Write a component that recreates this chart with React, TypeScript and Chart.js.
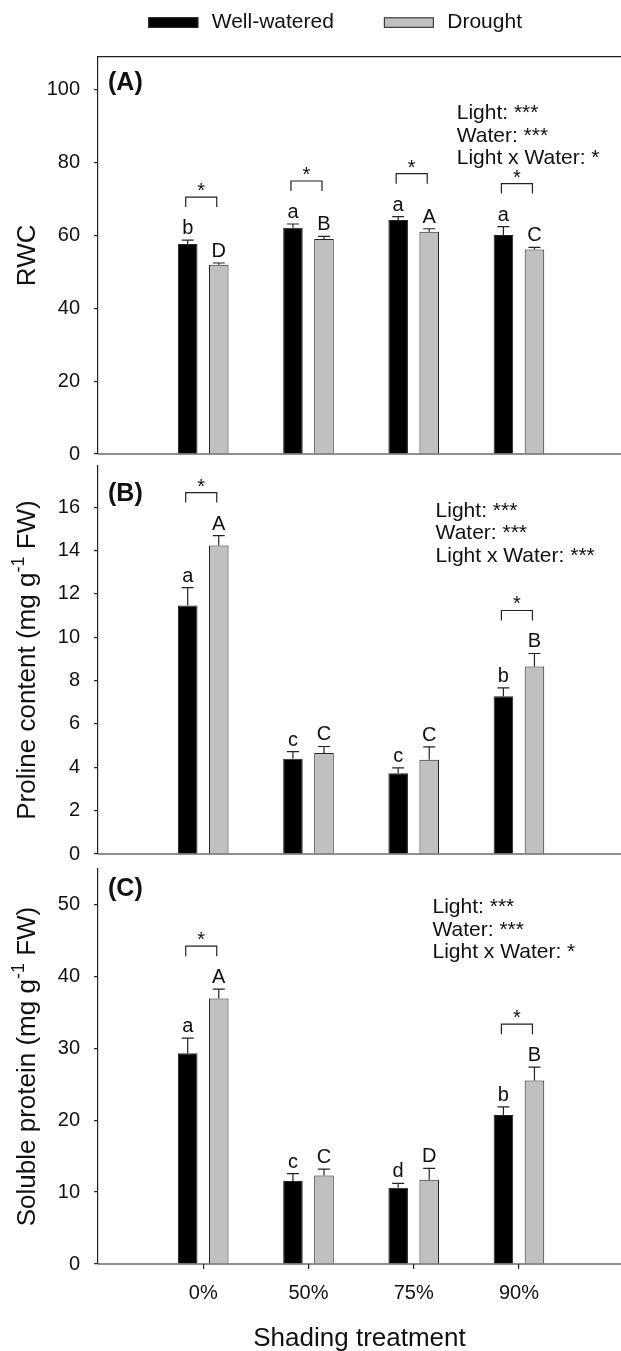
import React, { useEffect, useRef } from 'react';
import { Chart, registerables } from 'chart.js';

Chart.register(...registerables);

const FONT = "'Liberation Sans', Arial, Helvetica, sans-serif";
const TEXT = '#111111';
const LINE = '#222222';

// ---------- data ----------
const categories = ['0%', '50%', '75%', '90%'];
const seriesLabels = ['Well-watered', 'Drought'];
const xTitle = 'Shading treatment';

const rwcWell = [57.6, 62.1, 64.2, 60.1];
const rwcWellErr = [1.1, 1.0, 0.9, 2.3];
const rwcDrought = [51.9, 59.0, 61.0, 56.1];
const rwcDroughtErr = [0.5, 0.7, 0.8, 0.6];
const rwcWellLetters = ['b', 'a', 'a', 'a'];
const rwcDroughtLetters = ['D', 'B', 'A', 'C'];
const rwcSig = [true, true, true, true];
const rwcStats = ['Light: ***', 'Water: ***', 'Light x Water: *'];
const rwcTicks = [0, 20, 40, 60, 80, 100];

const proWell = [11.46, 4.39, 3.73, 7.28];
const proWellErr = [0.83, 0.33, 0.24, 0.38];
const proDrought = [14.23, 4.66, 4.35, 8.65];
const proDroughtErr = [0.46, 0.3, 0.59, 0.6];
const proWellLetters = ['a', 'c', 'c', 'b'];
const proDroughtLetters = ['A', 'C', 'C', 'B'];
const proSig = [true, false, false, true];
const proStats = ['Light: ***', 'Water: ***', 'Light x Water: ***'];
const proTicks = [0, 2, 4, 6, 8, 10, 12, 14, 16];

const solWell = [29.3, 11.55, 10.6, 20.7];
const solWellErr = [2.1, 1.0, 0.6, 1.15];
const solDrought = [36.9, 12.3, 11.7, 25.5];
const solDroughtErr = [1.3, 0.9, 1.6, 1.85];
const solWellLetters = ['a', 'c', 'd', 'b'];
const solDroughtLetters = ['A', 'C', 'D', 'B'];
const solSig = [true, false, false, true];
const solStats = ['Light: ***', 'Water: ***', 'Light x Water: *'];
const solTicks = [0, 10, 20, 30, 40, 50];

// ---------- panel configs (layout kept separate from data) ----------
const panels = [
  {
    tag: '(A)', title: ['RWC'], well: rwcWell, wellErr: rwcWellErr, drought: rwcDrought, droughtErr: rwcDroughtErr,
    wellLetters: rwcWellLetters, droughtLetters: rwcDroughtLetters, sig: rwcSig, stats: rwcStats, ticks: rwcTicks, yMax: 109,
    canvasTop: 0, canvasHeight: 480, padTop: 56.7, padBottom: 21.7, xHeight: 0, showX: false, legend: true, topLine: true,
    tagDy: 26.5, statsX: 456.7, statsDy: 56.6,
  },
  {
    tag: '(B)', title: ['Proline content (mg g', '-1', ' FW)'], well: proWell, wellErr: proWellErr, drought: proDrought, droughtErr: proDroughtErr,
    wellLetters: proWellLetters, droughtLetters: proDroughtLetters, sig: proSig, stats: proStats, ticks: proTicks, yMax: 17.9,
    canvasTop: 440, canvasHeight: 440, padTop: 18.3, padBottom: 18.3, xHeight: 0, showX: false, legend: false, topLine: false,
    tagDy: 28.4, statsX: 435.6, statsDy: 45,
  },
  {
    tag: '(C)', title: ['Soluble protein (mg g', '-1', ' FW)'], well: solWell, wellErr: solWellErr, drought: solDrought, droughtErr: solDroughtErr,
    wellLetters: solWellLetters, droughtLetters: solDroughtLetters, sig: solSig, stats: solStats, ticks: solTicks, yMax: 54.9,
    canvasTop: 843, canvasHeight: 511, padTop: 18.7, padBottom: 0, xHeight: 90, showX: true, legend: false, topLine: false,
    tagDy: 20, statsX: 432.5, statsDy: 38.3,
  },
];

const WELL_COLOR = '#000000';
const DROUGHT_COLOR = '#c0c0c0';

function drawYTitle(ctx: CanvasRenderingContext2D, parts: string[], cx: number, cy: number) {
  ctx.save();
  ctx.translate(cx, cy);
  ctx.rotate(-Math.PI / 2);
  const big = `26px ${FONT}`;
  const small = `18px ${FONT}`;
  const widths = parts.map((t, i) => {
    ctx.font = i === 1 ? small : big;
    return ctx.measureText(t).width;
  });
  const total = widths.reduce((a, b) => a + b, 0);
  let x = -total / 2;
  ctx.textBaseline = 'middle';
  ctx.textAlign = 'left';
  ctx.fillStyle = TEXT;
  parts.forEach((t, i) => {
    ctx.font = i === 1 ? small : big;
    ctx.fillText(t, x, i === 1 ? -9 : 0);
    x += widths[i];
  });
  ctx.restore();
}

function makePlugin(p: any) {
  return {
    id: 'decor',
    afterDatasetsDraw(chart: any) {
      const ctx: CanvasRenderingContext2D = chart.ctx;
      const ys = chart.scales.y;
      const metas = [chart.getDatasetMeta(0), chart.getDatasetMeta(1)];
      const vals = [p.well, p.drought];
      const errs = [p.wellErr, p.droughtErr];
      const letters = [p.wellLetters, p.droughtLetters];
      const errTops: number[][] = [[], []];
      ctx.save();
      ctx.strokeStyle = LINE;
      ctx.lineWidth = 1.2;
      ctx.fillStyle = TEXT;
      ctx.font = `20px ${FONT}`;
      ctx.textAlign = 'center';
      ctx.textBaseline = 'alphabetic';
      metas.forEach((meta: any, di: number) => {
        meta.data.forEach((bar: any, i: number) => {
          const x = bar.x;
          const top = ys.getPixelForValue(vals[di][i]);
          const et = ys.getPixelForValue(vals[di][i] + errs[di][i]);
          errTops[di][i] = et;
          ctx.beginPath();
          ctx.moveTo(x, top);
          ctx.lineTo(x, et);
          ctx.moveTo(x - 6, et);
          ctx.lineTo(x + 6, et);
          ctx.stroke();
          ctx.fillText(letters[di][i], x, et - 6);
        });
      });
      p.sig.forEach((s: boolean, i: number) => {
        if (!s) return;
        const x0 = metas[0].data[i].x - 2;
        const x1 = metas[1].data[i].x - 2;
        const et = Math.min(errTops[0][i], errTops[1][i]);
        const bottom = et - 33;
        const hy = bottom - 10;
        ctx.beginPath();
        ctx.moveTo(x0, bottom);
        ctx.lineTo(x0, hy);
        ctx.lineTo(x1, hy);
        ctx.lineTo(x1, bottom);
        ctx.stroke();
        ctx.fillText('*', (x0 + x1) / 2, hy);
      });
      ctx.restore();
    },
    afterDraw(chart: any) {
      const ctx: CanvasRenderingContext2D = chart.ctx;
      const area = chart.chartArea;
      ctx.save();
      ctx.strokeStyle = LINE;
      ctx.lineWidth = 1.2;
      ctx.beginPath();
      ctx.moveTo(area.left, area.bottom);
      ctx.lineTo(chart.width, area.bottom);
      if (p.topLine) {
        ctx.moveTo(area.left, area.top);
        ctx.lineTo(chart.width, area.top);
      }
      ctx.stroke();

      // panel tag
      ctx.fillStyle = TEXT;
      ctx.font = `bold 25px ${FONT}`;
      ctx.textAlign = 'left';
      ctx.textBaseline = 'middle';
      ctx.fillText(p.tag, 108, area.top + p.tagDy);

      // stats
      ctx.font = `21px ${FONT}`;
      p.stats.forEach((s: string, k: number) => {
        ctx.fillText(s, p.statsX, area.top + p.statsDy + k * 22.6);
      });

      // y title
      drawYTitle(ctx, p.title, 28, (area.top + area.bottom) / 2);

      // legend
      if (p.legend) {
        const colors = [WELL_COLOR, DROUGHT_COLOR];
        let x = 148.3;
        ctx.font = `21px ${FONT}`;
        ctx.textBaseline = 'middle';
        chart.data.datasets.forEach((ds: any, i: number) => {
          ctx.fillStyle = colors[i];
          ctx.fillRect(x, 17.3, 50, 10.5);
          ctx.strokeStyle = LINE;
          ctx.lineWidth = 1;
          ctx.strokeRect(x + 0.5, 17.8, 49, 9.5);
          ctx.fillStyle = TEXT;
          const tx = x + 63.4;
          ctx.fillText(ds.label, tx, 22.5);
          x = tx + ctx.measureText(ds.label).width + 50;
        });
      }
      ctx.restore();
    },
  };
}

function makeConfig(p: any): any {
  const makeData = (vals: number[]) => categories.map((_, i) => ({ x: i, y: vals[i] }));
  return {
    type: 'bar',
    data: {
      datasets: [
        {
          label: seriesLabels[0], data: makeData(p.well), backgroundColor: WELL_COLOR, borderColor: LINE,
          borderWidth: 1, categoryPercentage: 0.59, barPercentage: 0.63,
        },
        {
          label: seriesLabels[1], data: makeData(p.drought), backgroundColor: DROUGHT_COLOR, borderColor: LINE,
          borderWidth: 1, categoryPercentage: 0.59, barPercentage: 0.63,
        },
      ],
    },
    options: {
      responsive: false,
      animation: false,
      events: [],
      layout: { padding: { top: p.padTop, bottom: p.padBottom, left: 0, right: 0 } },
      plugins: { legend: { display: false }, tooltip: { enabled: false }, title: { display: false } },
      scales: {
        x: {
          type: 'linear',
          min: -1,
          max: 3.97,
          offset: false,
          display: true,
          afterBuildTicks: (s: any) => {
            s.ticks = categories.map((_, i) => ({ value: i }));
          },
          afterFit: (s: any) => {
            s.height = p.xHeight;
          },
          ticks: {
            display: p.showX,
            callback: (v: any) => categories[v] ?? '',
            font: { family: FONT, size: 20 },
            color: TEXT,
            padding: 12,
            maxRotation: 0,
            autoSkip: false,
          },
          grid: {
            display: p.showX,
            offset: false,
            drawOnChartArea: false,
            drawTicks: true,
            tickLength: 5,
            tickColor: LINE,
            color: LINE,
            lineWidth: 1.2,
          },
          border: { display: false },
          title: {
            display: p.showX,
            text: xTitle,
            font: { family: FONT, size: 26 },
            color: TEXT,
            padding: { top: 0, bottom: 0 },
          },
        },
        y: {
          type: 'linear',
          min: 0,
          max: p.yMax,
          afterBuildTicks: (s: any) => {
            s.ticks = p.ticks.map((v: number) => ({ value: v }));
          },
          afterFit: (s: any) => {
            s.width = 98;
          },
          ticks: {
            font: { family: FONT, size: 20 },
            color: TEXT,
            padding: 14,
          },
          grid: {
            display: true,
            drawOnChartArea: false,
            drawTicks: true,
            tickLength: 4,
            tickColor: LINE,
            color: LINE,
            lineWidth: 1.2,
          },
          border: { display: true, color: LINE, width: 1.2 },
        },
      },
    },
    plugins: [makePlugin(p)],
  };
}

function PanelChart({ p }: { p: any }) {
  const ref = useRef<HTMLCanvasElement>(null);
  useEffect(() => {
    if (!ref.current) return;
    const chart = new Chart(ref.current, makeConfig(p));
    return () => chart.destroy();
  }, [p]);
  return (
    <canvas
      ref={ref}
      width={621}
      height={p.canvasHeight}
      style={{ position: 'absolute', left: 0, top: p.canvasTop, width: 621, height: p.canvasHeight, display: 'block' }}
    />
  );
}

export default function App() {
  return (
    <div
      style={{
        position: 'absolute', left: 0, top: 0, width: 621, height: 1351, overflow: 'hidden', background: '#ffffff',
      }}
    >
      {panels.map((p, i) => (
        <PanelChart key={i} p={p} />
      ))}
    </div>
  );
}
